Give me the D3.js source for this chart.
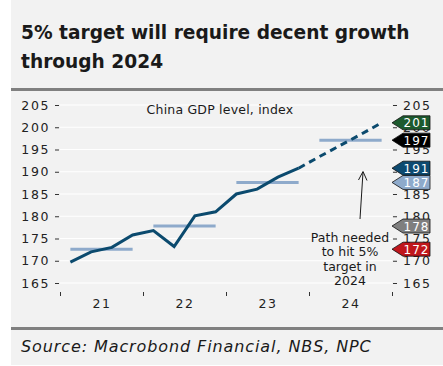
<!DOCTYPE html>
<html>
<head>
<meta charset="utf-8">
<script src="https://cdn.jsdelivr.net/npm/d3@7"></script>
<style>
  body { margin: 0; background: #fff; }
  svg { display: block; font-family: "DejaVu Sans", sans-serif; }
</style>
</head>
<body>
<div id="chart"></div>
<script>
// China GDP level, quarterly index (2021Q1 .. 2023Q4)
const quarterPos = [2021.125, 2021.375, 2021.625, 2021.875,
                    2022.125, 2022.375, 2022.625, 2022.875,
                    2023.125, 2023.375, 2023.625, 2023.875];
const gdpLevel = [169.7, 172.0, 173.0, 175.8, 176.8, 173.2, 180.1, 181.0, 185.0, 186.1, 188.8, 190.8];

// path needed to hit 5% target in 2024 (from 2023Q4)
const pathPos = [2023.875, 2024.125, 2024.375, 2024.625, 2024.875];
const pathLevel = [190.8, 193.4, 195.9, 198.4, 201.0];

// annual averages
const avgYears = [2021, 2022, 2023, 2024];
const avgLevel = [172.6, 177.8, 187.6, 197.1];

// right-hand value flags
const flagValues = [201.0, 197.1, 190.8, 187.6, 177.8, 172.6];
const flagLabels = ["201", "197", "191", "187", "178", "172"];
const flagColours = ["#1c5a2e", "#000000", "#0d4a70", "#8eaacb", "#7f7f7f", "#c0161c"];

const yTicks = [165, 170, 175, 180, 185, 190, 195, 200, 205];
const yearTicks = [2021, 2022, 2023, 2024, 2025];
const yearLabels = ["21", "22", "23", "24"];

(function () {
  const W = 443, H = 366;
  const lineColour = "#0b4a6e";
  const avgColour = "#8eaacb";

  const svg = d3.select("#chart").append("svg")
    .attr("width", W).attr("height", H);

  svg.append("rect").attr("x", 11).attr("y", 0)
    .attr("width", W - 11).attr("height", 365).attr("fill", "#f2f2f2");

  // title
  const title = svg.append("text").attr("x", 21).attr("fill", "#1a1a1a")
    .attr("font-size", 18.6).attr("font-weight", 600);
  title.append("tspan").attr("x", 21).attr("y", 39).text("5% target will require decent growth");
  title.append("tspan").attr("x", 21).attr("y", 68).text("through 2024");

  // separators
  svg.append("rect").attr("x", 11).attr("y", 88).attr("width", W - 11).attr("height", 3).attr("fill", "#808080");
  svg.append("rect").attr("x", 11).attr("y", 327).attr("width", W - 11).attr("height", 3).attr("fill", "#808080");

  svg.append("text").attr("x", 21).attr("y", 352)
    .attr("font-size", 16).attr("font-style", "italic").attr("letter-spacing", 0.9)
    .attr("fill", "#1a1a1a")
    .text("Source: Macrobond Financial, NBS, NPC");

  const x = d3.scaleLinear().domain([2021, 2025]).range([60, 392]);
  const y = d3.scaleLinear().domain([165, 205]).range([283, 105]);

  // gridlines
  svg.append("g").selectAll("line").data(yTicks).join("line")
    .attr("x1", x(2021)).attr("x2", x(2025))
    .attr("y1", (d) => y(d)).attr("y2", (d) => y(d))
    .attr("stroke", "#ffffff").attr("stroke-width", 1.2);

  function styleAxis(g) {
    g.select(".domain").remove();
    g.selectAll(".tick line").attr("stroke", "#333");
    g.selectAll(".tick text").attr("fill", "#222")
      .attr("font-size", 12.5).attr("letter-spacing", 1.6)
      .attr("font-family", "DejaVu Sans, sans-serif");
  }

  svg.append("g").attr("transform", "translate(59,0)")
    .call(d3.axisLeft(y).tickValues(yTicks).tickSize(4).tickPadding(5))
    .call(styleAxis);

  svg.append("g").attr("transform", "translate(393,0)")
    .call(d3.axisRight(y).tickValues(yTicks).tickSize(4).tickPadding(6))
    .call(styleAxis);

  // x ticks at year boundaries, labels at year midpoints
  svg.append("g").attr("transform", "translate(0,292)")
    .call(d3.axisBottom(x).tickValues(yearTicks).tickSize(4).tickFormat(""))
    .call(styleAxis);
  svg.append("g").attr("transform", "translate(0,299)")
    .call(d3.axisBottom(x).tickValues(yearLabels.map((d, i) => 2021.5 + i))
      .tickSize(0).tickPadding(0).tickFormat((d, i) => yearLabels[i]))
    .call(styleAxis);

  // annual average segments
  svg.append("g").selectAll("line").data(avgYears).join("line")
    .attr("x1", (d) => x(d + 0.125)).attr("x2", (d) => x(d + 0.875))
    .attr("y1", (d, i) => y(avgLevel[i])).attr("y2", (d, i) => y(avgLevel[i]))
    .attr("stroke", avgColour).attr("stroke-width", 3);

  const line = d3.line().x((d) => x(d[0])).y((d) => y(d[1]));

  svg.append("path")
    .datum(quarterPos.map((p, i) => [p, gdpLevel[i]]))
    .attr("fill", "none").attr("stroke", lineColour)
    .attr("stroke-width", 3).attr("stroke-linejoin", "miter")
    .attr("d", line);

  svg.append("path")
    .datum(pathPos.map((p, i) => [p, pathLevel[i]]))
    .attr("fill", "none").attr("stroke", lineColour)
    .attr("stroke-width", 3).attr("stroke-dasharray", "7 5")
    .attr("d", line);

  // annotations
  svg.append("text").attr("x", 220).attr("y", 113.5)
    .attr("text-anchor", "middle").attr("font-size", 12.5).attr("letter-spacing", 0.2)
    .attr("fill", "#1a1a1a")
    .text("China GDP level, index");

  const note = svg.append("text").attr("text-anchor", "middle")
    .attr("font-size", 12.5).attr("fill", "#1a1a1a");
  ["Path needed", "to hit 5%", "target in", "2024"].forEach((t, i) => {
    note.append("tspan").attr("x", 350).attr("y", 242 + i * 14.4).text(t);
  });

  svg.append("line").attr("x1", 360).attr("y1", 219).attr("x2", 363).attr("y2", 172)
    .attr("stroke", "#1a1a1a").attr("stroke-width", 1);
  svg.append("path").attr("d", "M358.5,180 L363,171.5 L367,180.5")
    .attr("fill", "none").attr("stroke", "#1a1a1a").attr("stroke-width", 1);

  // value flags
  const flags = svg.append("g").selectAll("g").data(flagValues).join("g")
    .attr("transform", (d) => `translate(0,${y(d)})`);
  flags.append("path")
    .attr("d", "M392,0 L403,-7 L430,-7 L430,7 L403,7 Z")
    .attr("fill", (d, i) => flagColours[i])
    .attr("stroke", "#111").attr("stroke-width", 0.8);
  flags.append("text").attr("x", 416.5).attr("y", 4.5)
    .attr("text-anchor", "middle").attr("font-size", 12).attr("letter-spacing", 1)
    .attr("fill", "#fff").text((d, i) => flagLabels[i]);
})();
</script>
</body>
</html>
